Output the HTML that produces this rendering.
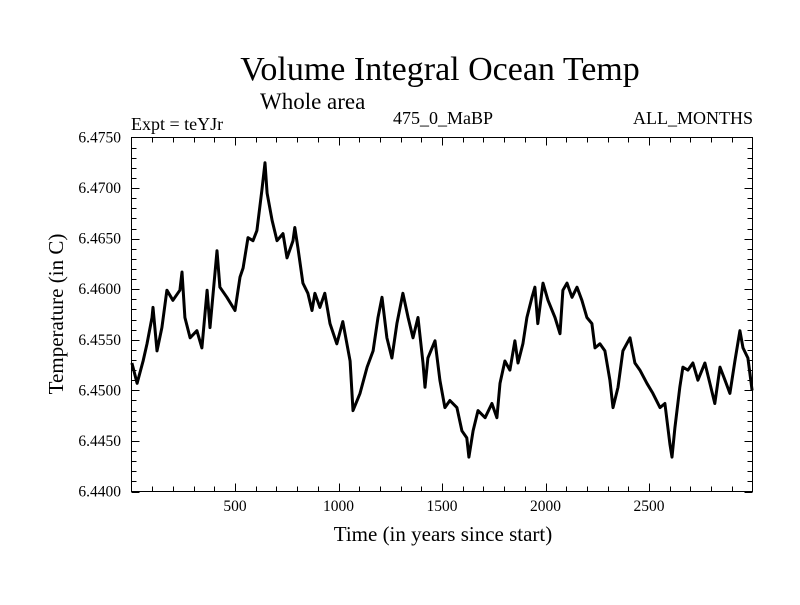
<!DOCTYPE html>
<html><head><meta charset="utf-8"><style>
body{margin:0;background:#fff;}
svg text{font-family:"Liberation Serif",serif;fill:#000;}
</style></head><body>
<svg id="chart" width="800" height="600" viewBox="0 0 800 600" xmlns="http://www.w3.org/2000/svg">
<text x="440" y="80" font-size="34" text-anchor="middle">Volume Integral Ocean Temp</text>
<text x="260" y="109" font-size="23">Whole area</text>
<text x="131" y="130" font-size="18">Expt = teYJr</text>
<text x="443" y="124" font-size="18" text-anchor="middle">475_0_MaBP</text>
<text x="753" y="124" font-size="18" text-anchor="end">ALL_MONTHS</text>
<text x="0" y="0" font-size="21" text-anchor="middle" transform="translate(63,314) rotate(-90)">Temperature (in C)</text>
<text x="443" y="541" font-size="21" text-anchor="middle">Time (in years since start)</text>
<g id="axes"></g>
<path id="series" fill="none" stroke="#000" stroke-width="3" stroke-linejoin="round"></path>
<rect x="131.5" y="137.5" width="621" height="354" fill="none" stroke="#000" stroke-width="1"></rect>
</svg>
<script>
const years=[2,27,56,75,99,104,123,147,171,200,234,244,258,283,316,340,365,379,413,427,461,500,524,539,563,587,606,630,645,655,679,703,732,751,780,789,804,828,852,872,886,910,934,959,992,1021,1056,1070,1104,1138,1167,1191,1210,1234,1258,1282,1311,1336,1360,1384,1408,1418,1432,1466,1490,1514,1538,1572,1596,1620,1630,1650,1674,1708,1741,1765,1780,1804,1828,1852,1867,1891,1910,1935,1949,1963,1988,2012,2046,2070,2084,2104,2128,2152,2176,2200,2224,2239,2263,2287,2311,2326,2350,2374,2408,2432,2456,2490,2519,2553,2577,2601,2611,2625,2649,2664,2688,2712,2736,2770,2794,2818,2843,2867,2891,2915,2939,2954,2978,2998];
const temps=[6.4527,6.4507,6.4529,6.4546,6.4572,6.4582,6.4539,6.4562,6.4599,6.4589,6.4599,6.4617,6.4572,6.4552,6.4559,6.4542,6.4599,6.4562,6.4638,6.4602,6.4592,6.4579,6.4612,6.4621,6.4651,6.4648,6.4658,6.4698,6.4725,6.4695,6.4668,6.4648,6.4655,6.4631,6.4648,6.4661,6.4641,6.4606,6.4596,6.4579,6.4596,6.4582,6.4596,6.4566,6.4546,6.4568,6.4529,6.4480,6.4497,6.4523,6.4539,6.4572,6.4592,6.4552,6.4532,6.4566,6.4596,6.4572,6.4552,6.4572,6.4527,6.4503,6.4532,6.4549,6.4510,6.4483,6.4490,6.4483,6.4460,6.4453,6.4434,6.4460,6.4480,6.4473,6.4487,6.4473,6.4507,6.4529,6.4520,6.4549,6.4527,6.4546,6.4572,6.4592,6.4602,6.4566,6.4606,6.4589,6.4572,6.4556,6.4599,6.4606,6.4592,6.4602,6.4589,6.4572,6.4566,6.4542,6.4546,6.4539,6.4510,6.4483,6.4503,6.4539,6.4552,6.4527,6.4520,6.4507,6.4497,6.4483,6.4487,6.4447,6.4434,6.4463,6.4503,6.4523,6.4520,6.4527,6.4510,6.4527,6.4507,6.4487,6.4523,6.4510,6.4497,6.4529,6.4559,6.4542,6.4532,6.4500];
const xTicks=[500,1000,1500,2000,2500];
const yTicks=[6.4400,6.4450,6.4500,6.4550,6.4600,6.4650,6.4700,6.4750];
const L=131.5,R=752.5,T=137.5,B=491.5,X0=0,X1=3000,Y0=6.440,Y1=6.475;
const sx=v=>L+(v-X0)/(X1-X0)*(R-L);
const sy=v=>B-(v-Y0)/(Y1-Y0)*(B-T);
const NS="http://www.w3.org/2000/svg";
const ax=document.getElementById('axes');
function line(x1,y1,x2,y2,name){const l=document.createElementNS(NS,'line');
l.setAttribute('x1',x1);l.setAttribute('y1',y1);l.setAttribute('x2',x2);l.setAttribute('y2',y2);l.setAttribute('stroke','#000');l.setAttribute('stroke-width','1');


ax.appendChild(l);}
function txt(x,y,s,anchor,name){const t=document.createElementNS(NS,'text');
t.setAttribute('x',x);t.setAttribute('y',y);t.setAttribute('font-size','15.5');t.setAttribute('text-anchor',anchor);t.textContent=s;


ax.appendChild(t);}
for(let v=100;v<3000;v+=100){const x=Math.round(sx(v))+0.5;const maj=v%500===0;const len=maj?8:5;
line(x,B,x,B-len,'x-tick');line(x,T,x,T+len,'x-tick-top');}
xTicks.forEach(v=>txt(sx(v),511,String(v),'middle','x-tick-label'));
for(let i=0;i<=35;i++){const v=Y0+i*0.001;const y=Math.round(sy(v))+0.5;const maj=i%5===0;const len=maj?8:5;
line(L,y,L+len,y,'y-tick');line(R,y,R-len,y,'y-tick-right');}
yTicks.forEach(v=>txt(121,sy(v)+5,v.toFixed(4),'end','y-tick-label'));
let d='';years.forEach((yr,i)=>{d+=(i?'L':'M')+sx(yr).toFixed(1)+','+sy(temps[i]).toFixed(1);});
document.getElementById('series').setAttribute('d',d);
</script>
</body></html>
